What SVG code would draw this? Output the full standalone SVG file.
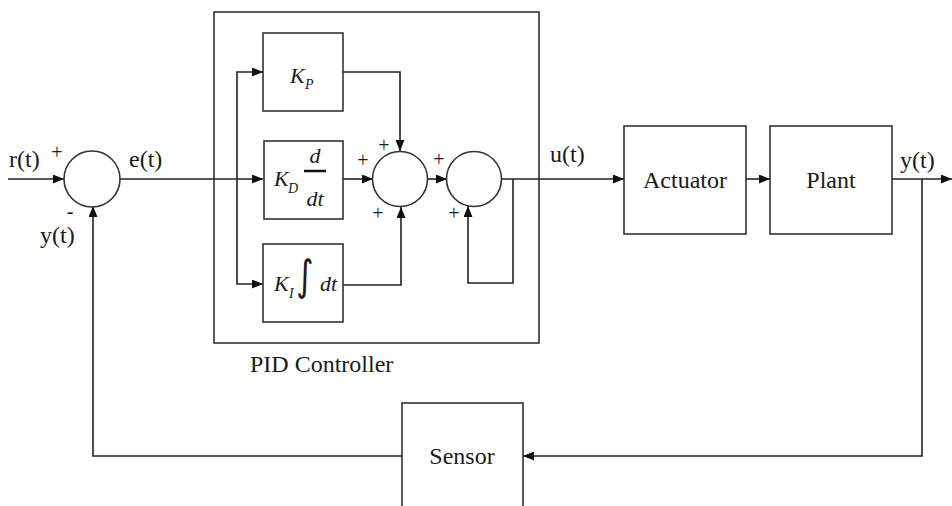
<svg xmlns="http://www.w3.org/2000/svg" width="952" height="506" viewBox="0 0 952 506">
  <defs>
    <marker id="arr" markerUnits="userSpaceOnUse" markerWidth="11" markerHeight="9" refX="11" refY="4.5" orient="auto">
      <path d="M0,0 L11,4.5 L0,9 z" fill="#111"/>
    </marker>
    <style>
      .box { fill: #fff; stroke: #333; stroke-width: 1.6; }
      .sum { fill: #fff; stroke: #333; stroke-width: 1.6; }
      .wire { fill: none; stroke: #222; stroke-width: 1.6; }
      .lbl { font-family: "Liberation Serif", "Times New Roman", serif; font-size: 24px; fill: #1a1a1a; }
      .sign { font-family: "Liberation Serif", "Times New Roman", serif; font-size: 20px; fill: #1a1a1a; text-anchor: middle; }
      .math { font-family: "Liberation Serif", "Times New Roman", serif; font-style: italic; font-size: 22px; fill: #1a1a1a; }
      .sub { font-family: "Liberation Serif", "Times New Roman", serif; font-style: italic; font-size: 14px; fill: #1a1a1a; }
      .intg { font-family: "DejaVu Sans", sans-serif; font-size: 42px; fill: #1a1a1a; text-anchor: middle; }
    </style>
  </defs>
  <rect width="952" height="506" fill="#fff"/>

  <g id="pid-controller">
    <rect class="box" x="214" y="12" width="325" height="331" fill="none"/>
    <text class="lbl" x="250" y="372">PID Controller</text>
  </g>

  <g id="connectors">
    <path class="wire" d="M8,179 H64" marker-end="url(#arr)"/>
    <path class="wire" d="M120,179 H263" marker-end="url(#arr)"/>
    <path class="wire" d="M237,179 V72 H263" marker-end="url(#arr)"/>
    <path class="wire" d="M237,179 V284 H263" marker-end="url(#arr)"/>
    <path class="wire" d="M343,72 H400 V151" marker-end="url(#arr)"/>
    <path class="wire" d="M343,179 H373" marker-end="url(#arr)"/>
    <path class="wire" d="M343,285 H401 V207" marker-end="url(#arr)"/>
    <path class="wire" d="M428,179 H447" marker-end="url(#arr)"/>
    <path class="wire" d="M502,179 H624" marker-end="url(#arr)"/>
    <path class="wire" d="M513,179 V283 H468 V206" marker-end="url(#arr)"/>
    <path class="wire" d="M746,179 H770" marker-end="url(#arr)"/>
    <path class="wire" d="M892,179 H952" marker-end="url(#arr)"/>
    <path class="wire" d="M922,179 V456 H523" marker-end="url(#arr)"/>
    <path class="wire" d="M402,456 H93 V206" marker-end="url(#arr)"/>
  </g>

  <g id="sum1">
    <circle class="sum" cx="92" cy="179" r="28"/>
    <text class="sign" x="57" y="159">+</text>
    <text class="sign" x="70" y="218">-</text>
  </g>

  <g id="kp">
    <rect class="box" x="263" y="33" width="80" height="78"/>
    <text class="math" x="290" y="83">K</text>
    <text class="sub" x="305" y="89">P</text>
  </g>

  <g id="kd">
    <rect class="box" x="264" y="141" width="79" height="78"/>
    <text class="math" x="274" y="186">K</text>
    <text class="sub" x="288" y="193">D</text>
    <text class="math" x="315" y="163" text-anchor="middle">d</text>
    <line x1="304" y1="171" x2="326" y2="171" stroke="#111" stroke-width="2.5"/>
    <text class="math" x="315" y="206" text-anchor="middle">dt</text>
  </g>

  <g id="ki">
    <rect class="box" x="263" y="244" width="80" height="78"/>
    <text class="math" x="274" y="291">K</text>
    <text class="sub" x="289" y="298">I</text>
    <text class="intg" x="0" y="0" transform="translate(305,290) scale(0.8,1)">∫</text>
    <text class="math" x="320" y="291">dt</text>
  </g>

  <g id="sum2">
    <circle class="sum" cx="400" cy="179" r="27.5"/>
    <text class="sign" x="384" y="152">+</text>
    <text class="sign" x="363" y="167">+</text>
    <text class="sign" x="378" y="220">+</text>
  </g>

  <g id="sum3">
    <circle class="sum" cx="474" cy="179" r="27.5"/>
    <text class="sign" x="439" y="166">+</text>
    <text class="sign" x="454" y="220">+</text>
  </g>

  <g id="actuator">
    <rect class="box" x="624" y="126" width="122" height="108"/>
    <text class="lbl" x="685" y="188" text-anchor="middle">Actuator</text>
  </g>

  <g id="plant">
    <rect class="box" x="770" y="126" width="122" height="108"/>
    <text class="lbl" x="831" y="188" text-anchor="middle">Plant</text>
  </g>

  <g id="sensor">
    <rect class="box" x="402" y="403" width="121" height="110"/>
    <text class="lbl" x="462" y="464" text-anchor="middle">Sensor</text>
  </g>

  <g id="signal-labels">
    <text class="lbl" x="9" y="167">r(t)</text>
    <text class="lbl" x="129" y="167">e(t)</text>
    <text class="lbl" x="40" y="243">y(t)</text>
    <text class="lbl" x="550" y="162">u(t)</text>
    <text class="lbl" x="900" y="168">y(t)</text>
  </g>
</svg>
